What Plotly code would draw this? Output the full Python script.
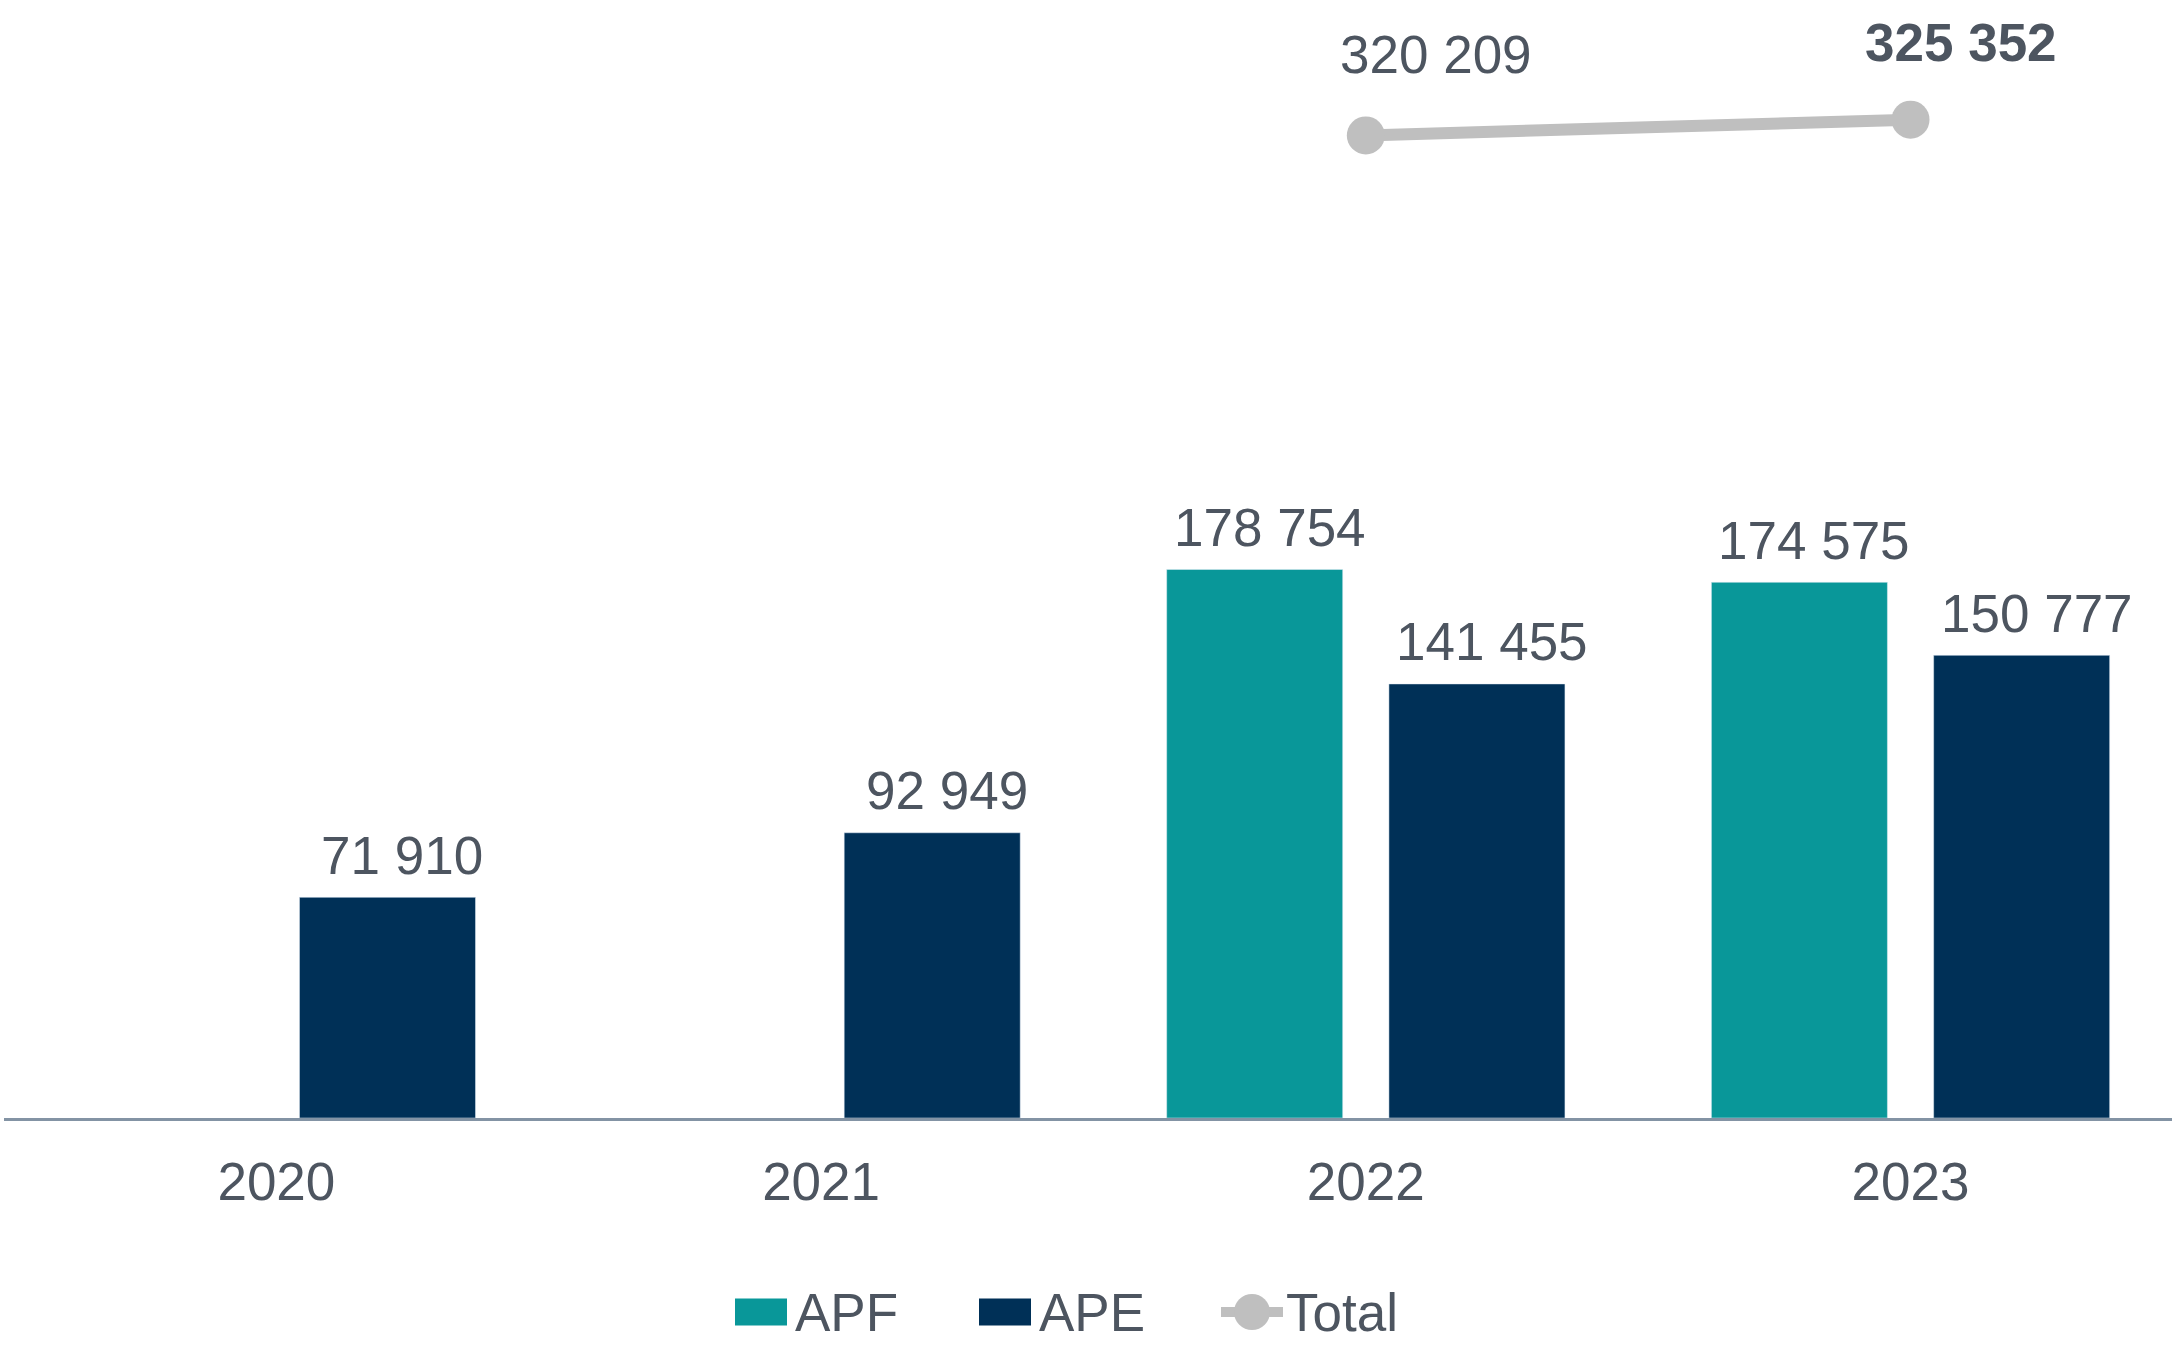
import plotly.graph_objects as go

# Yearly figures
years = ["2020", "2021", "2022", "2023"]
apf = [None, None, 178754, 174575]
ape = [71910, 92949, 141455, 150777]
total_years = ["2022", "2023"]
total = [320209, 325352]

series_names = ["APF", "APE", "Total"]
colors = {"APF": "#099799", "APE": "#003057", "Total": "#BFBFBF"}
text_color = "#4D5560"
font_family = "Liberation Sans, Arial, sans-serif"
fs = 53

W, H = 2172, 1346
ML, MR, MT, MB = 4, 0, 44, 228
PW, PH = W - ML - MR, H - MT - MB

BAR_OFFSET = 0.204  # centre offset of each bar within its year group


def fmt(v):
    return f"{v:,}".replace(",", " ")


def px_to_paper(x, y):
    return (x - ML) / PW, (H - MB - y) / PH


fig = go.Figure()

fig.add_trace(go.Bar(x=years, y=apf, name="APF", marker_color=colors["APF"],
                     showlegend=False, cliponaxis=False))
fig.add_trace(go.Bar(x=years, y=ape, name="APE", marker_color=colors["APE"],
                     showlegend=False, cliponaxis=False))
fig.add_trace(go.Scatter(
    x=total_years, y=total, name="Total", mode="lines+markers",
    line=dict(color=colors["Total"], width=12),
    marker=dict(size=38, color=colors["Total"]),
    cliponaxis=False, showlegend=False,
))

label_font = dict(size=fs, color=text_color, family=font_family)

# Value labels above the bars
for series, sign in ((apf, -1), (ape, 1)):
    for i, v in enumerate(series):
        if v is None:
            continue
        fig.add_annotation(
            x=i + sign * BAR_OFFSET, y=v, text=fmt(v), showarrow=False,
            xanchor="center", yanchor="middle", xshift=15, yshift=42,
            font=label_font,
        )

# Total value labels above and to the right of each point
shifts = [(70, 81), (50, 77)]
for i, (yr, v) in enumerate(zip(total_years, total)):
    txt = fmt(v)
    if i == len(total) - 1:
        txt = f"<b>{txt}</b>"
    fig.add_annotation(
        x=years.index(yr), y=v, text=txt, showarrow=False,
        xanchor="center", yanchor="middle",
        xshift=shifts[i][0], yshift=shifts[i][1],
        font=label_font,
    )

# Legend drawn beneath the axis
leg_y = 1312
sw_w, sw_h = 52, 27
leg_x = {"APF": 735, "APE": 979, "Total": 1221}
for name in series_names:
    x0 = leg_x[name]
    if name == "Total":
        ax0, ay = px_to_paper(x0, leg_y)
        ax1, _ = px_to_paper(x0 + 62, leg_y)
        fig.add_shape(type="line", xref="paper", yref="paper",
                      x0=ax0, x1=ax1, y0=ay, y1=ay,
                      line=dict(color=colors[name], width=10))
        r = 18
        cx = x0 + 31
        cx0, cy0 = px_to_paper(cx - r, leg_y + r)
        cx1, cy1 = px_to_paper(cx + r, leg_y - r)
        fig.add_shape(type="circle", xref="paper", yref="paper",
                      x0=cx0, x1=cx1, y0=cy0, y1=cy1,
                      fillcolor=colors[name], line=dict(width=0))
        tx = x0 + 63
    else:
        rx0, ry0 = px_to_paper(x0, leg_y + sw_h / 2)
        rx1, ry1 = px_to_paper(x0 + sw_w, leg_y - sw_h / 2)
        fig.add_shape(type="rect", xref="paper", yref="paper",
                      x0=rx0, x1=rx1, y0=ry0, y1=ry1,
                      fillcolor=colors[name], line=dict(width=0))
        tx = x0 + sw_w + 6
    lx, ly = px_to_paper(tx, leg_y)
    fig.add_annotation(
        x=lx, y=ly, xref="paper", yref="paper",
        xanchor="left", yanchor="middle", text=name, showarrow=False,
        font=label_font,
    )

fig.update_layout(
    width=W, height=H,
    margin=dict(l=ML, r=MR, t=MT, b=MB),
    paper_bgcolor="white", plot_bgcolor="white",
    barmode="group", bargap=0.184, bargroupgap=0.208,
    showlegend=False,
    font=dict(family=font_family, size=fs, color=text_color),
)
fig.update_xaxes(
    type="category", range=[-0.5, 3.48],
    showline=True, linecolor="#8393A4", linewidth=3,
    showgrid=False, ticks="", ticklabelstandoff=15,
    tickfont=label_font,
)
fig.update_yaxes(
    range=[0, 350000], showticklabels=False, showgrid=False,
    zeroline=False, showline=False, ticks="",
)

fig.write_html("out.html")
